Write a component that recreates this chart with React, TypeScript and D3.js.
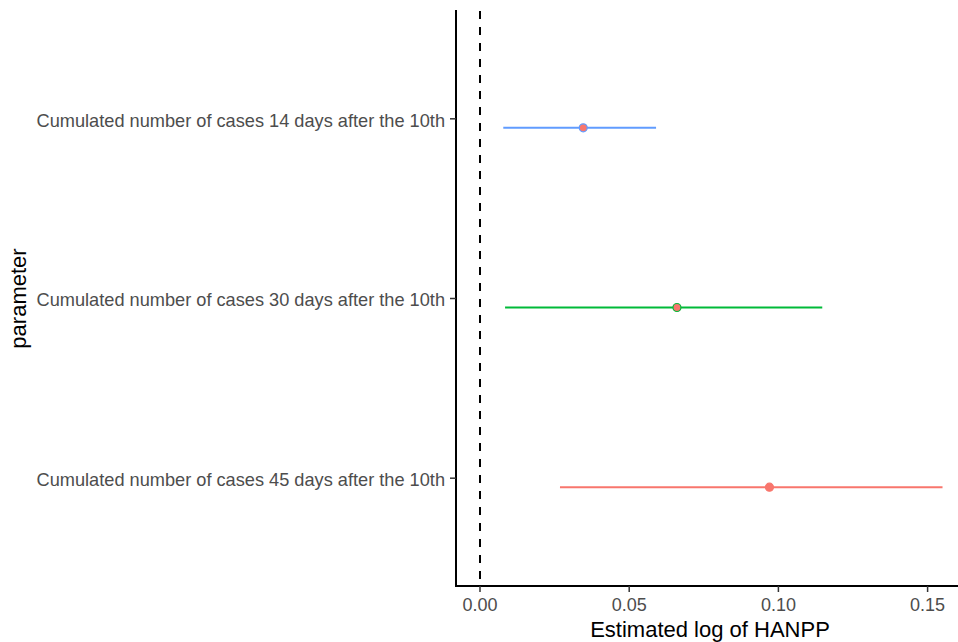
import React from 'react'
import * as d3 from 'd3'

// categories, top to bottom as shown
const PARAMS = [
  'Cumulated number of cases 14 days after the 10th',
  'Cumulated number of cases 30 days after the 10th',
  'Cumulated number of cases 45 days after the 10th',
]
const ESTIMATE = [0.0346, 0.066, 0.097]
const LOWER = [0.0078, 0.0084, 0.0268]
const UPPER = [0.059, 0.1147, 0.155]
const X_TICKS = [0, 0.05, 0.1, 0.15]

const COLORS = ['#619CFF', '#00BA38', '#F8766D']
const POINT_FILL = '#F8766D'

const W = 958
const H = 642
const margin = { top: 11, right: 0, bottom: 56, left: 456 }

export default function App() {
  const bottom = H - margin.bottom
  const x = d3.scaleLinear().domain([0, 0.15]).range([480, 927.6])
  // discrete axis, ggplot style: levels 1..n, 0.6 expansion each side
  const n = PARAMS.length
  const y = d3.scaleLinear().domain([0.4, n + 0.6]).range([bottom, margin.top])
  const level = (i: number) => n - i
  const dodge = 0.05

  return (
    <svg
      width={W}
      height={H}
      style={{ position: 'absolute', left: 0, top: 0, background: '#fff' }}
      fontFamily="'Liberation Sans', Arial, sans-serif"
    >
      {/* zero line */}
      <line
        x1={x(0)}
        x2={x(0)}
        y1={margin.top}
        y2={bottom}
        stroke="#000"
        strokeWidth={2}
        strokeDasharray="8,8"
      />

      {PARAMS.map((p, i) => {
        const cy = y(level(i) - dodge)
        return (
          <g key={p}>
            <line
              x1={x(LOWER[i])}
              x2={x(UPPER[i])}
              y1={cy}
              y2={cy}
              stroke={COLORS[i]}
              strokeWidth={2}
            />
            <circle
              cx={x(ESTIMATE[i])}
              cy={cy}
              r={4}
              fill={POINT_FILL}
              stroke={COLORS[i]}
              strokeWidth={1.2}
            />
          </g>
        )
      })}

      {/* axes */}
      <line x1={margin.left} x2={margin.left} y1={margin.top - 1} y2={bottom + 1} stroke="#000" strokeWidth={2} />
      <line x1={margin.left - 1} x2={W} y1={bottom} y2={bottom} stroke="#000" strokeWidth={2} />

      {PARAMS.map((p, i) => (
        <g key={'t' + p}>
          <line
            x1={margin.left - 6}
            x2={margin.left}
            y1={y(level(i))}
            y2={y(level(i))}
            stroke="#333"
            strokeWidth={1.5}
          />
          <text
            x={margin.left - 11}
            y={y(level(i)) + 1.5}
            dy="0.35em"
            textAnchor="end"
            fontSize={18.2}
            fill="#4D4D4D"
          >
            {p}
          </text>
        </g>
      ))}

      {X_TICKS.map((t) => (
        <g key={t}>
          <line x1={x(t)} x2={x(t)} y1={bottom} y2={bottom + 6} stroke="#333" strokeWidth={1.5} />
          <text x={x(t)} y={bottom + 25} textAnchor="middle" fontSize={18} fill="#4D4D4D">
            {d3.format('.2f')(t)}
          </text>
        </g>
      ))}

      <text x={(margin.left + W) / 2 + 3} y={H - 5} textAnchor="middle" fontSize={22} fill="#000">
        Estimated log of HANPP
      </text>
      <text
        transform={`translate(26,${(margin.top + bottom) / 2}) rotate(-90)`}
        textAnchor="middle"
        fontSize={22}
        fill="#000"
      >
        parameter
      </text>
    </svg>
  )
}
